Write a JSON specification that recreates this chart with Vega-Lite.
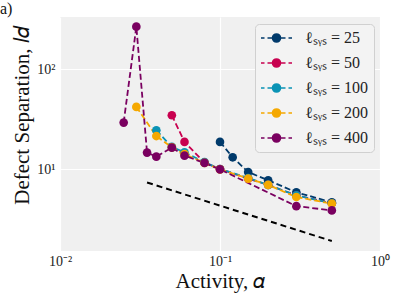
{
  "$schema": "https://vega.github.io/schema/vega-lite/v6.json",
  "width": 320,
  "height": 234,
  "autosize": {"type": "none"},
  "padding": {"left": 60, "top": 17, "right": 27, "bottom": 54},
  "background": "white",
  "title": {"text": "a)", "anchor": "start", "frame": "group", "dx": -60, "offset": 0, "font": "Liberation Serif", "fontSize": 16, "fontWeight": "normal", "color": "#111"},
  "config": {
    "view": {"fill": "#f0f0f0", "stroke": null},
    "axis": {
      "domain": false, "ticks": false, "grid": true, "gridColor": "white", "gridWidth": 1.2, "gridOpacity": 1,
      "labelFont": "Liberation Serif", "labelFontSize": 14, "labelColor": "#222",
      "titleFont": "Liberation Serif", "titleFontSize": 21, "titleFontWeight": "normal", "titleColor": "#111"
    },
    "legend": {
      "labelFont": "Liberation Serif", "labelFontSize": 16, "labelColor": "#222"
    }
  },
  "datasets": {
    "pts": [
      {"a": 0.1, "d": 18.8, "s": "ℓₛᵧₛ = 25"},
      {"a": 0.12, "d": 13.2, "s": "ℓₛᵧₛ = 25"},
      {"a": 0.15, "d": 9.4, "s": "ℓₛᵧₛ = 25"},
      {"a": 0.2, "d": 7.8, "s": "ℓₛᵧₛ = 25"},
      {"a": 0.3, "d": 5.9, "s": "ℓₛᵧₛ = 25"},
      {"a": 0.5, "d": 4.7, "s": "ℓₛᵧₛ = 25"},
      {"a": 0.05, "d": 34.7, "s": "ℓₛᵧₛ = 50"},
      {"a": 0.06, "d": 18.8, "s": "ℓₛᵧₛ = 50"},
      {"a": 0.08, "d": 11.7, "s": "ℓₛᵧₛ = 50"},
      {"a": 0.1, "d": 10.1, "s": "ℓₛᵧₛ = 50"},
      {"a": 0.15, "d": 8.1, "s": "ℓₛᵧₛ = 50"},
      {"a": 0.2, "d": 7.0, "s": "ℓₛᵧₛ = 50"},
      {"a": 0.3, "d": 5.5, "s": "ℓₛᵧₛ = 50"},
      {"a": 0.5, "d": 4.6, "s": "ℓₛᵧₛ = 50"},
      {"a": 0.04, "d": 24.5, "s": "ℓₛᵧₛ = 100"},
      {"a": 0.05, "d": 16.8, "s": "ℓₛᵧₛ = 100"},
      {"a": 0.06, "d": 14.8, "s": "ℓₛᵧₛ = 100"},
      {"a": 0.08, "d": 11.8, "s": "ℓₛᵧₛ = 100"},
      {"a": 0.1, "d": 10.1, "s": "ℓₛᵧₛ = 100"},
      {"a": 0.15, "d": 8.2, "s": "ℓₛᵧₛ = 100"},
      {"a": 0.2, "d": 7.0, "s": "ℓₛᵧₛ = 100"},
      {"a": 0.3, "d": 5.5, "s": "ℓₛᵧₛ = 100"},
      {"a": 0.5, "d": 4.6, "s": "ℓₛᵧₛ = 100"},
      {"a": 0.03, "d": 42, "s": "ℓₛᵧₛ = 200"},
      {"a": 0.04, "d": 21.5, "s": "ℓₛᵧₛ = 200"},
      {"a": 0.05, "d": 16.6, "s": "ℓₛᵧₛ = 200"},
      {"a": 0.06, "d": 14.2, "s": "ℓₛᵧₛ = 200"},
      {"a": 0.08, "d": 11.6, "s": "ℓₛᵧₛ = 200"},
      {"a": 0.1, "d": 10.0, "s": "ℓₛᵧₛ = 200"},
      {"a": 0.15, "d": 8.1, "s": "ℓₛᵧₛ = 200"},
      {"a": 0.2, "d": 7.0, "s": "ℓₛᵧₛ = 200"},
      {"a": 0.3, "d": 5.3, "s": "ℓₛᵧₛ = 200"},
      {"a": 0.5, "d": 4.55, "s": "ℓₛᵧₛ = 200"},
      {"a": 0.025, "d": 29.3, "s": "ℓₛᵧₛ = 400"},
      {"a": 0.03, "d": 265, "s": "ℓₛᵧₛ = 400"},
      {"a": 0.035, "d": 14.7, "s": "ℓₛᵧₛ = 400"},
      {"a": 0.04, "d": 13.4, "s": "ℓₛᵧₛ = 400"},
      {"a": 0.05, "d": 16.5, "s": "ℓₛᵧₛ = 400"},
      {"a": 0.06, "d": 13.7, "s": "ℓₛᵧₛ = 400"},
      {"a": 0.08, "d": 11.6, "s": "ℓₛᵧₛ = 400"},
      {"a": 0.1, "d": 10.0, "s": "ℓₛᵧₛ = 400"},
      {"a": 0.3, "d": 4.3, "s": "ℓₛᵧₛ = 400"},
      {"a": 0.5, "d": 3.9, "s": "ℓₛᵧₛ = 400"}
    ],
    "ref": [
      {"a": 0.035, "d": 7.4},
      {"a": 0.5, "d": 1.93}
    ]
  },
  "layer": [
    {
      "data": {"name": "ref"},
      "mark": {"type": "line", "color": "black", "strokeWidth": 2, "strokeDash": [6, 4]},
      "encoding": {
        "x": {"field": "a", "type": "quantitative"},
        "y": {"field": "d", "type": "quantitative"}
      }
    },
    {
      "data": {"name": "pts"},
      "mark": {"type": "line", "strokeWidth": 1.8, "strokeDash": [6, 3]},
      "encoding": {
        "x": {"field": "a", "type": "quantitative"},
        "y": {"field": "d", "type": "quantitative"},
        "color": {"field": "s", "type": "nominal"}
      }
    },
    {
      "data": {"name": "pts"},
      "mark": {"type": "point", "filled": true, "opacity": 1, "size": 75},
      "encoding": {
        "x": {"field": "a", "type": "quantitative", "title": "Activity, 𝛼",
          "scale": {"type": "log", "domain": [0.01, 1], "nice": false},
          "axis": {"values": [0.01, 0.1, 1], "labelFlush": false, "labelPadding": 3,
            "labelExpr": "datum.value < 0.05 ? '10⁻²' : datum.value < 0.5 ? '10⁻¹' : '10⁰'",
            "titleBaseline": "alphabetic", "titleY": 36}},
        "y": {"field": "d", "type": "quantitative", "title": "Defect Separation, 𝑙𝑑",
          "scale": {"type": "log", "domain": [1.535, 331], "nice": false},
          "axis": {"values": [10, 100], "labelPadding": 5,
            "labelExpr": "datum.value < 50 ? '10¹' : '10²'",
            "titleX": -28, "titleY": 98, "titleBaseline": "bottom"}},
        "color": {"field": "s", "type": "nominal",
          "scale": {"domain": ["ℓₛᵧₛ = 25", "ℓₛᵧₛ = 50", "ℓₛᵧₛ = 100", "ℓₛᵧₛ = 200", "ℓₛᵧₛ = 400"],
            "range": ["#003a6b", "#c8004f", "#0a93b5", "#f5a800", "#7a0060"]},
          "legend": {
            "title": null, "orient": "none", "legendX": 195, "legendY": 7,
            "fillColor": "#f3f3f3", "strokeColor": "#d0d0d0", "cornerRadius": 4, "padding": 6,
            "symbolType": "M-3.1,0L-2.4,0M-1.8,0L-0.8,0M0.8,0L1.8,0M2.4,0L3.1,0M-0.8,0A0.8,0.8,0,1,1,0.8,0A0.8,0.8,0,1,1,-0.8,0Z",
            "symbolSize": 100, "symbolStrokeWidth": 1.6, "symbolOpacity": 1,
            "labelOffset": 28, "rowPadding": 9,
            "encode": {"symbols": {"update": {
              "stroke": {"scale": "color", "field": "value"},
              "fill": {"scale": "color", "field": "value"},
              "strokeWidth": {"value": 1.6},
              "x": {"value": 15.5},
              "opacity": {"value": 1}
            }}}
          }}
      }
    }
  ]
}
